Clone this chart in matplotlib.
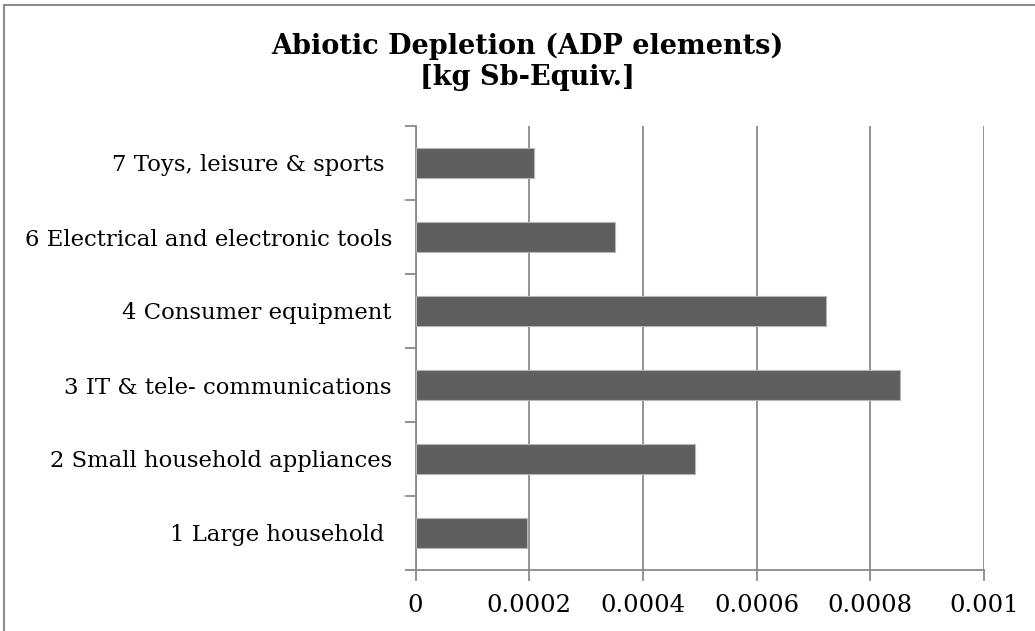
import matplotlib
matplotlib.use("Agg")
import matplotlib.pyplot as plt
import numpy as np
from matplotlib.patches import Rectangle

categories = [
    '1 Large household ',
    '2 Small household appliances',
    '3 IT & tele- communications',
    '4 Consumer equipment',
    '6 Electrical and electronic tools',
    '7 Toys, leisure & sports ',
]
values = [0.000196, 0.000492, 0.000853, 0.000722, 0.000351, 0.000209]
xticks = [0, 0.0002, 0.0004, 0.0006, 0.0008, 0.001]
xtick_labels = ['0', '0.0002', '0.0004', '0.0006', '0.0008', '0.001']
title = 'Abiotic Depletion (ADP elements)\n[kg Sb-Equiv.]'

W, H = 1035, 631
fig = plt.figure(figsize=(W / 100, H / 100), dpi=100)
fig.patch.set_facecolor('white')

# chart border
fig.patches.append(Rectangle((4 / W, -0.05), 1.2, 1 - 5 / H + 0.05, transform=fig.transFigure,
                             fill=False, edgecolor='#8c8c8c', linewidth=1.5))

left, right, top, bottom = 415.5, 984, 126, 570
ax = fig.add_axes([left / W, 1 - bottom / H, (right - left) / W, (bottom - top) / H])

grid_col = '#8a8a8a'
y = np.arange(len(categories))
ax.barh(y, values, height=0.4, color='#5f5f5f', edgecolor='#b5b5b5', linewidth=0.8, zorder=3)

ax.set_xlim(0, 0.001)
ax.set_ylim(-0.5, len(categories) - 0.5)
ax.set_xticks(xticks)
ax.set_xticklabels(xtick_labels, fontsize=17.5, family='DejaVu Serif')
ax.set_yticks(y)
ax.set_yticklabels(categories, fontsize=16.4, family='DejaVu Serif')
ax.set_yticks(np.arange(-0.5, len(categories)), minor=True)

ax.tick_params(axis='y', which='major', length=0, pad=17)
ax.tick_params(axis='y', which='minor', length=8, width=1.3, color=grid_col, direction='out')
ax.tick_params(axis='x', length=8, width=1.3, color=grid_col, direction='out', pad=9)

ax.grid(axis='x', color=grid_col, linewidth=1.3, zorder=0)
for s in ['top', 'right']:
    ax.spines[s].set_visible(False)
for s in ['left', 'bottom']:
    ax.spines[s].set_color(grid_col)
    ax.spines[s].set_linewidth(1.3)

fig.text(527 / W, 1 - 62 / H, title, ha='center', va='center', fontsize=19.5,
         fontweight='bold', family='DejaVu Serif', linespacing=1.2)

fig.savefig('out.png', dpi=100)
